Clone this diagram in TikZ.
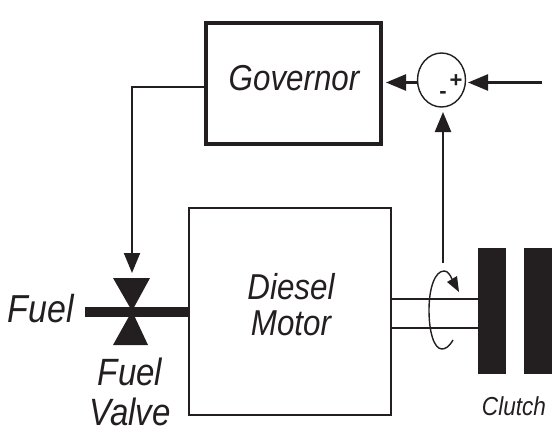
\documentclass[tikz,border=0pt]{standalone}
\usepackage{fontspec}
\setmainfont{Liberation Sans}
\newfontfamily\narrowit[FakeStretch=0.87]{Liberation Sans Italic}
\usetikzlibrary{arrows.meta,shapes.geometric}
\definecolor{ink}{HTML}{231F20}
\tikzset{
  x=1pt,y=-1pt,
  every node/.style={inner sep=0pt,outer sep=0pt,text=ink},
  lab/.style={font=\narrowit\fontsize{36}{40}\selectfont,anchor=base},
  wire/.style={draw=ink,line width=2.4pt},
  tip/.style={-{Triangle[length=20pt,width=16pt,fill=ink]}},
  diskbox/.style={fill=ink,draw=none,minimum width=28pt,minimum height=126pt},
}
\begin{document}
\begin{tikzpicture}
\useasboundingbox (0,0) rectangle (552,436);
% blocks
\node[draw=ink,line width=3.4pt,minimum width=175pt,minimum height=121pt] (gov) at (293.5,83.5) {};
\node[lab] (govt) at (294,90.5) {Governor};
\node[draw=ink,line width=2pt,minimum width=202pt,minimum height=207pt] (motor) at (290,311.5) {};
\node[lab] (dt1) at (291,299) {Diesel};
\node[lab] (dt2) at (291,335.5) {Motor};
\node[draw=ink,line width=1.4pt,ellipse,minimum width=48pt,minimum height=54pt] (sum) at (441.5,80) {};
\node[font=\bfseries\fontsize{22}{22}\selectfont] (plus) at (456,81) {+};
\node[font=\bfseries\fontsize{22}{22}\selectfont] (minus) at (443,95) {-};
% clutch
\node[diskbox] (d1) at (492,311) {};
\node[diskbox] (d2) at (538,311) {};
\node[lab,font=\narrowit\fontsize{26}{30}\selectfont] (ct) at (514,415) {Clutch};
% shaft
\coordinate (s1a) at (391,299); \coordinate (s1b) at (478,299);
\coordinate (s2a) at (391,328); \coordinate (s2b) at (478,328);
\draw[wire] (s1a) -- (s1b);
\draw[wire] (s2a) -- (s2b);
% signals
\coordinate (in) at (542,82.5);
\coordinate (sumr) at (468,82.5);
\coordinate (suml) at (417,82.5);
\coordinate (govr) at (386,82.5);
\draw[wire,tip] (in) -- (sumr);
\draw[wire,tip] (suml) -- (govr);
\coordinate (fb) at (443,263);
\coordinate (sumb) at (443,112);
\draw[wire,tip] (fb) -- (sumb);
% valve
\coordinate (vc) at (132,311);
\coordinate (vtop) at (132,273);
\coordinate (gl) at (206,87);
\coordinate (gc) at (132,87);
\draw[wire,line width=2pt,tip] (gl) -- (gc) -- (vtop);
\fill[ink] (113,278) -- (150,278) -- (vc) -- cycle;
\fill[ink] (vc) -- (148,345) -- (113,345) -- cycle;
\coordinate (fa) at (85,312); \coordinate (fz) at (189,312);
\draw[draw=ink,line width=10pt] (fa) -- (fz);
\node[lab,font=\narrowit\fontsize{39}{40}\selectfont] (ft) at (41,322) {Fuel};
\node[lab,font=\narrowit\fontsize{38}{40}\selectfont] (vt1) at (130,385) {Fuel};
\node[lab,font=\narrowit\fontsize{38}{40}\selectfont] (vt2) at (130,425) {Valve};
% rotation
\coordinate (r0) at (453,340);
\coordinate (r1) at (459,292);
\draw[draw=ink,line width=1.4pt] (r0) .. controls (449,347) and (445,349) .. (442,349) .. controls (434,349) and (429,332) .. (429,310) .. controls (429,288) and (435,271) .. (444,271) .. controls (448,271) and (450,275) .. (452,279);
\fill[ink] (r1) -- (447,282) -- (457,276) -- cycle;
\end{tikzpicture}
\end{document}
